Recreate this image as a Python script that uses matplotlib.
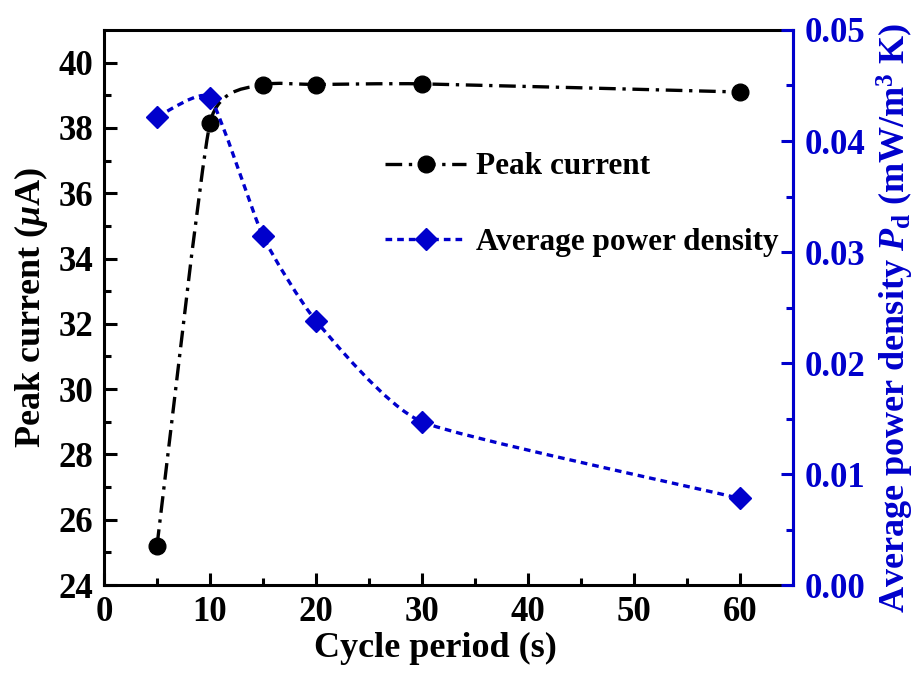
import numpy as np
import matplotlib.pyplot as plt
from matplotlib.path import Path
from matplotlib.patches import PathPatch
from matplotlib.lines import Line2D

plt.rcParams['font.family'] = ['Liberation Serif', 'DejaVu Serif']
plt.rcParams['font.weight'] = 'bold'
plt.rcParams['mathtext.fontset'] = 'custom'
plt.rcParams['mathtext.it'] = 'Liberation Serif:italic:bold'
plt.rcParams['mathtext.rm'] = 'Liberation Serif:bold'
plt.rcParams['mathtext.bf'] = 'Liberation Serif:bold'

# cycle period (s)
period = [5, 10, 15, 20, 30, 60]
# peak current (uA)
peak_current = [25.2, 38.15, 39.32, 39.33, 39.35, 39.1]
# average power density (mW/m3 K)
power_density = [0.0422, 0.0439, 0.0314, 0.0238, 0.0147, 0.0078]

BLUE = '#0000CC'


def smooth_path(x, y, k=12.0):
    # rounded curve through the points, written as cubic Bezier segments
    x = np.asarray(x, float)
    y = np.asarray(y, float)
    px = np.concatenate([[2 * x[0] - x[1]], x, [2 * x[-1] - x[-2]]])
    py = np.concatenate([[2 * y[0] - y[1]], y, [2 * y[-1] - y[-2]]])
    verts = [(x[0], y[0])]
    codes = [Path.MOVETO]
    for i in range(1, len(px) - 2):
        c1 = (px[i] + (px[i + 1] - px[i - 1]) / k, py[i] + (py[i + 1] - py[i - 1]) / k)
        c2 = (px[i + 1] - (px[i + 2] - px[i]) / k, py[i + 1] - (py[i + 2] - py[i]) / k)
        verts += [c1, c2, (px[i + 1], py[i + 1])]
        codes += [Path.CURVE4] * 3
    return Path(verts, codes)


fig = plt.figure(figsize=(9.17, 6.74), dpi=100)
ax = fig.add_axes([0.1134, 0.132, 0.7514, 0.8235])
ax2 = ax.twinx()

black_dash = (0, (5, 2, 1, 2))
blue_dash = (0, (2, 1.5))

ax.add_patch(PathPatch(smooth_path(period, peak_current), fill=False,
                       edgecolor='black', lw=2.4, linestyle=black_dash))
ax.plot(period, peak_current, 'o', color='black', ms=12, zorder=5)

ax2.add_patch(PathPatch(smooth_path(period, power_density), fill=False,
                        edgecolor=BLUE, lw=2.4, linestyle=blue_dash))
ax2.plot(period, power_density, 'D', color=BLUE, ms=11, zorder=5)

ax.set_xlim(0, 65)
ax.set_ylim(24, 41)
ax2.set_ylim(0, 0.05)

ax.set_xticks(range(0, 61, 10))
ax.set_xticks(range(5, 65, 10), minor=True)
ax.set_yticks(range(24, 41, 2))
ax.set_yticks(range(25, 41, 2), minor=True)
ax2.set_yticks(np.arange(0, 0.051, 0.01))
ax2.set_yticks(np.arange(0.005, 0.05, 0.01), minor=True)
ax2.yaxis.set_major_formatter(plt.FormatStrFormatter('%.2f'))

for a in (ax, ax2):
    for s in a.spines.values():
        s.set_linewidth(2.2)
ax.tick_params(axis='both', which='major', direction='in', length=9, width=2.2,
               labelsize=25, pad=8)
ax.tick_params(axis='both', which='minor', direction='in', length=5, width=2.2)
ax.tick_params(axis='y', right=False, which='both')
ax.tick_params(axis='x', top=False, which='both')
ax2.tick_params(axis='y', which='major', direction='in', length=9, width=2.2,
                labelsize=25, colors=BLUE, pad=8)
ax2.tick_params(axis='y', which='minor', direction='in', length=5, width=2.2,
                colors=BLUE)
ax2.spines['right'].set_color(BLUE)
ax2.spines['left'].set_visible(False)
ax2.spines['top'].set_visible(False)
ax2.spines['bottom'].set_visible(False)

ax.set_xlabel('Cycle period (s)', fontsize=26, fontweight='bold', labelpad=2)
ax.xaxis.label.set_x(0.481)
ax.set_ylabel(r'Peak current ($\mu$A)', fontsize=26, fontweight='bold', labelpad=6)
ax2.set_ylabel(r'Average power density $P_{\rm d}$ (mW/m$^3$ K)', fontsize=26,
               fontweight='bold', color=BLUE, labelpad=7)
ax2.yaxis.label.set_y(0.482)

handles = [
    Line2D([], [], color='black', lw=2.4, linestyle=black_dash, marker='o', ms=12),
    Line2D([], [], color=BLUE, lw=2.4, linestyle=blue_dash, marker='D', ms=11),
]
ax.legend(handles, ['Peak current', 'Average power density'], loc='upper left',
          bbox_to_anchor=(0.367, 0.83), frameon=False, fontsize=22.5,
          handlelength=2.6, labelspacing=1.5, handletextpad=0.3)

fig.savefig('out.png', dpi=100)
